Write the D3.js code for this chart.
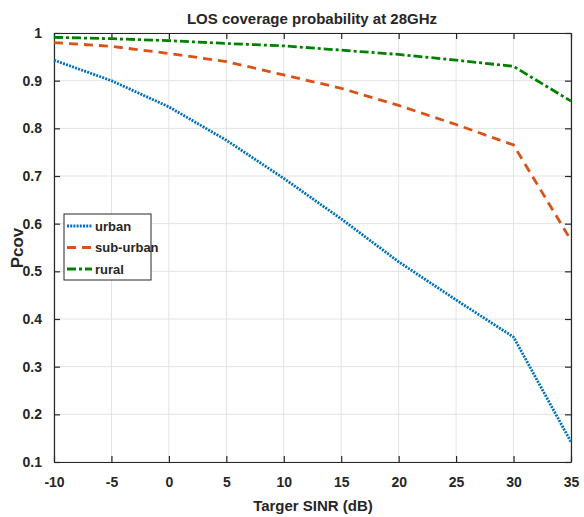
<!DOCTYPE html>
<html lang="en">
<head>
  <meta charset="UTF-8">
  <script src="https://d3js.org/d3.v7.min.js"></script>
  <title>LOS coverage probability</title>
  <style>
    body { margin: 0; background: #fff; }
    text { font-family: "Liberation Sans Narrow", "Arial Narrow", "Liberation Sans", sans-serif; font-weight: bold; fill: #262626; }
  </style>
</head>
<body>
  <svg style="width:584px;height:517px"></svg>
  <script>
    const sinr = [-10, -5, 0, 5, 10, 15, 20, 25, 30, 35];
    const urban = [0.943, 0.900, 0.845, 0.775, 0.695, 0.610, 0.520, 0.440, 0.362, 0.142];
    const suburban = [0.980, 0.972, 0.957, 0.940, 0.912, 0.884, 0.848, 0.808, 0.765, 0.565];
    const rural = [0.991, 0.988, 0.984, 0.978, 0.973, 0.964, 0.955, 0.943, 0.930, 0.857];
    const xTicks = [-10, -5, 0, 5, 10, 15, 20, 25, 30, 35];
    const yTicks = [0.1, 0.2, 0.3, 0.4, 0.5, 0.6, 0.7, 0.8, 0.9, 1];

    const svg = d3.select("svg");
    const plotL = 54, plotR = 571, plotT = 33, plotB = 462;

    const x = d3.scaleLinear().domain([-10, 35]).range([plotL, plotR]);
    const y = d3.scaleLinear().domain([0.1, 1]).range([plotB, plotT]);

    // grid
    svg.append("g").selectAll("line").data(xTicks).enter().append("line")
      .attr("x1", d => x(d)).attr("x2", d => x(d)).attr("y1", plotT).attr("y2", plotB)
      .attr("stroke", "#e3e3e3").attr("stroke-width", 1);
    svg.append("g").selectAll("line").data(yTicks).enter().append("line")
      .attr("y1", d => y(d)).attr("y2", d => y(d)).attr("x1", plotL).attr("x2", plotR)
      .attr("stroke", "#e3e3e3").attr("stroke-width", 1);

    // axes with inward ticks (plain hyphen for negatives, like the original)
    const fmt = d => String(+d.toFixed(1));
    const xAxis = svg.append("g").attr("transform", `translate(0,${plotB})`)
      .call(d3.axisBottom(x).tickValues(xTicks).tickSizeInner(-6).tickSizeOuter(0).tickPadding(12).tickFormat(fmt));
    const xTop = svg.append("g").attr("transform", `translate(0,${plotT})`)
      .call(d3.axisTop(x).tickValues(xTicks).tickSizeInner(-6).tickSizeOuter(0).tickFormat(""));
    const yAxis = svg.append("g").attr("transform", `translate(${plotL},0)`)
      .call(d3.axisLeft(y).tickValues(yTicks).tickSizeInner(-6).tickSizeOuter(0).tickPadding(12).tickFormat(fmt));
    const yRight = svg.append("g").attr("transform", `translate(${plotR},0)`)
      .call(d3.axisRight(y).tickValues(yTicks).tickSizeInner(-6).tickSizeOuter(0).tickFormat(""));

    [xAxis, xTop, yAxis, yRight].forEach(g => {
      g.selectAll("path").attr("stroke", "#262626").attr("stroke-width", 1.2);
      g.selectAll("line").attr("stroke", "#262626").attr("stroke-width", 1.2);
      g.selectAll("text").style("font-size", "14px").attr("fill", "#262626");
    });
    xAxis.selectAll("text").attr("dy", "0.9em");

    // series
    const series = [
      { name: "urban", values: urban, color: "#0072BD", dash: "2,1.2" },
      { name: "sub-urban", values: suburban, color: "#D95319", dash: "9,6" },
      { name: "rural", values: rural, color: "#008000", dash: "9,3,3,3" }
    ];

    const line = d3.line().x(d => x(d[0])).y(d => y(d[1]));
    series.forEach(s => {
      svg.append("path")
        .attr("d", line(sinr.map((v, i) => [v, s.values[i]])))
        .attr("fill", "none")
        .attr("stroke", s.color)
        .attr("stroke-width", 2.8)
        .attr("stroke-dasharray", s.dash);
    });

    // legend
    const lg = svg.append("g").attr("transform", "translate(64,214)");
    lg.append("rect").attr("width", 87).attr("height", 66)
      .attr("fill", "#fff").attr("stroke", "#262626").attr("stroke-width", 1);
    series.forEach((s, i) => {
      const ly = 12 + i * 21.5;
      lg.append("line").attr("x1", 3).attr("x2", 28).attr("y1", ly).attr("y2", ly)
        .attr("stroke", s.color).attr("stroke-width", 2.8).attr("stroke-dasharray", s.dash);
      lg.append("text").attr("x", 31).attr("y", ly).attr("dy", "0.35em")
        .style("font-size", "13px").text(s.name);
    });

    // title and labels
    svg.append("text").attr("x", 312).attr("y", 24).attr("text-anchor", "middle")
      .style("font-size", "15px").attr("fill", "#000").text("LOS coverage probability at 28GHz");
    svg.append("text").attr("x", 313).attr("y", 511).attr("text-anchor", "middle")
      .style("font-size", "15px").text("Targer SINR (dB)");
    svg.append("text").attr("transform", "translate(23,248) rotate(-90)").attr("text-anchor", "middle")
      .style("font-size", "17px").text("Pcov");
  </script>
</body>
</html>
